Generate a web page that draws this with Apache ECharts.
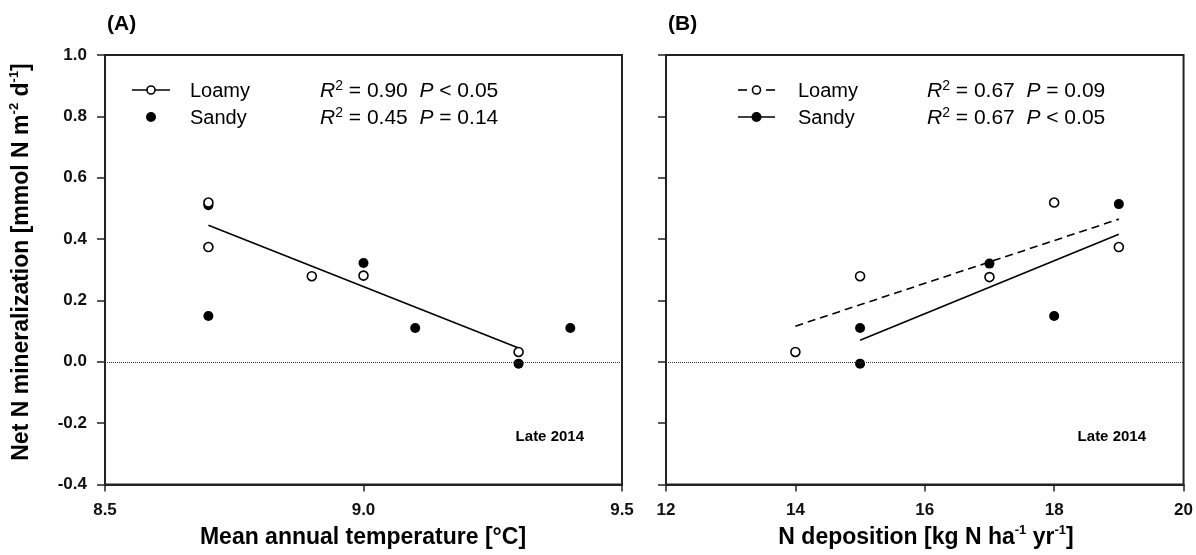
<!DOCTYPE html>
<html>
<head>
<meta charset="utf-8">
<script src="https://cdn.jsdelivr.net/npm/echarts@6/dist/echarts.min.js"></script>
<style>
html,body{margin:0;padding:0;background:#fff;}
#chart{width:1196px;height:555px;}
</style>
</head>
<body>
<div id="chart"></div>
<script>
// ---- Data ----
// Panel A: mean annual temperature [°C] vs net N mineralization
const tempLoamy = [8.7, 8.7, 8.9, 9.0, 9.3];
const nminLoamyA = [0.519, 0.374, 0.279, 0.281, 0.032];
const tempSandy = [8.7, 8.7, 9.0, 9.1, 9.3, 9.4];
const nminSandyA = [0.510, 0.149, 0.322, 0.110, -0.006, 0.110];
// Panel A regression (Loamy)
const fitLoamyAx = [8.7, 9.3];
const fitLoamyAy = [0.445, 0.045];

// Panel B: N deposition [kg N ha-1 yr-1] vs net N mineralization
const ndepLoamy = [14, 15, 17, 18, 19];
const nminLoamyB = [0.032, 0.279, 0.276, 0.519, 0.374];
const ndepSandy = [15, 15, 17, 18, 19];
const nminSandyB = [0.110, -0.006, 0.320, 0.149, 0.514];
// Panel B regressions
const fitLoamyBx = [14, 19];
const fitLoamyBy = [0.116, 0.465];
const fitSandyBx = [15, 19];
const fitSandyBy = [0.070, 0.416];

// Axis settings
const xTicksA = {min: 8.5, max: 9.5, interval: 0.5};
const xTicksB = {min: 12, max: 20, interval: 2};
const yTicks = {min: -0.4, max: 1.0, interval: 0.2};

// Legend / annotation texts
const legendA = [
  {name: 'Loamy', stat: '{i|R}{s|2}{n| = 0.90  }{i|P}{n| < 0.05}'},
  {name: 'Sandy', stat: '{i|R}{s|2}{n| = 0.45  }{i|P}{n| = 0.14}'}
];
const legendB = [
  {name: 'Loamy', stat: '{i|R}{s|2}{n| = 0.67  }{i|P}{n| = 0.09}'},
  {name: 'Sandy', stat: '{i|R}{s|2}{n| = 0.67  }{i|P}{n| < 0.05}'}
];

const zip = (xs, ys) => xs.map((x, i) => [x, ys[i]]);
const FONT = "'Liberation Sans', Arial, sans-serif";
const INK = '#000';

const chart = echarts.init(document.getElementById('chart'), null, {renderer: 'canvas'});

const gridTop = 55, gridH = 429.5;
function xAxis(gi, t) {
  return {
    type: 'value', gridIndex: gi, min: t.min, max: t.max, interval: t.interval,
    axisLine: {show: true, onZero: false, lineStyle: {color: '#222', width: 2}},
    axisTick: {show: true, inside: false, length: 7, lineStyle: {color: '#222', width: 1.5}},
    splitLine: {show: false},
    axisLabel: {
      show: true, margin: 17, color: '#111', fontFamily: FONT, fontWeight: 'bold', fontSize: 17,
      formatter: v => (t.interval < 1 ? v.toFixed(1) : String(Math.round(v)))
    }
  };
}
function yAxis(gi, showLabels) {
  return {
    type: 'value', gridIndex: gi, min: yTicks.min, max: yTicks.max, interval: yTicks.interval,
    axisLine: {show: true, onZero: false, lineStyle: {color: '#222', width: 2}},
    axisTick: {show: true, inside: false, length: 8, lineStyle: {color: '#222', width: 1.5}},
    splitLine: {show: false},
    axisLabel: {
      show: showLabels, margin: 18, color: '#111', fontFamily: FONT, fontWeight: 'bold', fontSize: 17,
      formatter: v => v.toFixed(1)
    }
  };
}
const zeroLine = {
  silent: true, symbol: 'none', label: {show: false},
  lineStyle: {type: 'dotted', color: '#333', width: 1},
  data: [{yAxis: 0}]
};
function fit(xi, xs, ys, dashed) {
  return {
    type: 'line', xAxisIndex: xi, yAxisIndex: xi, data: zip(xs, ys),
    showSymbol: false, symbol: 'none', silent: true, z: 2,
    lineStyle: {color: INK, width: 1.6, opacity: 1, type: dashed ? [8, 5] : 'solid'}
  };
}
function pts(xi, xs, ys, open, withZero) {
  const s = {
    type: 'scatter', xAxisIndex: xi, yAxisIndex: xi, data: zip(xs, ys),
    symbol: 'circle', symbolSize: open ? 9 : 10, z: open ? 4 : 3,
    itemStyle: open ? {color: '#fff', borderColor: INK, borderWidth: 1.6, opacity: 1} : {color: INK, opacity: 1}
  };
  if (withZero) s.markLine = zeroLine;
  return s;
}

const rich = {
  i: {fontFamily: FONT, fontStyle: 'italic', fontSize: 21, lineHeight: 24},
  s: {fontFamily: FONT, fontSize: 14, verticalAlign: 'top', lineHeight: 24},
  n: {fontFamily: FONT, fontSize: 21, lineHeight: 24}
};
function txt(x, y, text, opts) {
  return {type: 'text', x: x, y: y, silent: true, z: 100,
    style: Object.assign({text: text, fill: INK, font: '20px ' + FONT, align: 'left', verticalAlign: 'middle'}, opts || {})};
}
function legendGraphics(symX1, symX2, textX, statX, rows, dashedFirst) {
  const g = [];
  const cx = (symX1 + symX2) / 2;
  const ys = [90, 117];
  if (dashedFirst) {
    g.push({type: 'line', silent: true, z: 100, shape: {x1: symX1, y1: ys[0], x2: symX1 + 9, y2: ys[0]}, style: {stroke: INK, lineWidth: 1.6}});
    g.push({type: 'line', silent: true, z: 100, shape: {x1: symX2 - 9, y1: ys[0], x2: symX2, y2: ys[0]}, style: {stroke: INK, lineWidth: 1.6}});
  } else {
    g.push({type: 'line', silent: true, z: 100, shape: {x1: symX1, y1: ys[0], x2: symX2, y2: ys[0]}, style: {stroke: INK, lineWidth: 1.6}});
  }
  g.push({type: 'circle', silent: true, z: 101, shape: {cx: cx, cy: ys[0], r: 4}, style: {fill: '#fff', stroke: INK, lineWidth: 1.6}});
  if (dashedFirst) {
    g.push({type: 'line', silent: true, z: 100, shape: {x1: symX1, y1: ys[1], x2: symX2, y2: ys[1]}, style: {stroke: INK, lineWidth: 1.6}});
  }
  g.push({type: 'circle', silent: true, z: 101, shape: {cx: cx, cy: ys[1], r: 5}, style: {fill: INK}});
  rows.forEach((r, k) => {
    g.push(txt(textX, ys[k] + 1.5, r.name));
    g.push(txt(statX, ys[k] + 1.5, r.stat, {rich: rich}));
  });
  return g;
}

const titleRich = {
  b: {fontFamily: FONT, fontWeight: 'bold', fontSize: 23, lineHeight: 28},
  sup: {fontFamily: FONT, fontWeight: 'bold', fontSize: 13, verticalAlign: 'top', lineHeight: 28}
};

const option = {
  animation: false,
  backgroundColor: '#fff',
  grid: [
    {left: 105, top: gridTop, width: 517, height: gridH, show: true, borderColor: '#222', borderWidth: 2, backgroundColor: 'transparent'},
    {left: 666, top: gridTop, width: 519, height: gridH, show: true, borderColor: '#222', borderWidth: 2, backgroundColor: 'transparent'}
  ],
  xAxis: [xAxis(0, xTicksA), xAxis(1, xTicksB)],
  yAxis: [yAxis(0, true), yAxis(1, false)],
  series: [
    fit(0, fitLoamyAx, fitLoamyAy, false),
    pts(0, tempSandy, nminSandyA, false, true),
    pts(0, tempLoamy, nminLoamyA, true, false),
    fit(1, fitLoamyBx, fitLoamyBy, true),
    fit(1, fitSandyBx, fitSandyBy, false),
    pts(1, ndepSandy, nminSandyB, false, true),
    pts(1, ndepLoamy, nminLoamyB, true, false)
  ],
  graphic: [].concat(
    legendGraphics(132, 170, 190, 320, legendA, false),
    legendGraphics(738, 775, 798, 927, legendB, true),
    [
      txt(107, 24, '(A)', {font: 'bold 21px ' + FONT}),
      txt(668, 24, '(B)', {font: 'bold 21px ' + FONT}),
      txt(584, 437, 'Late 2014', {font: 'bold 15px ' + FONT, align: 'right'}),
      txt(1146, 437, 'Late 2014', {font: 'bold 15px ' + FONT, align: 'right'}),
      txt(363, 538, '{b|Mean annual temperature [°C]}', {rich: titleRich, align: 'center'}),
      txt(926, 538, '{b|N deposition [kg N ha}{sup|-1}{b| yr}{sup|-1}{b|]}', {rich: titleRich, align: 'center'}),
      {type: 'text', x: 22, y: 262, rotation: Math.PI / 2, silent: true, z: 100,
        style: {text: '{b|Net N mineralization [mmol N m}{sup|-2}{b| d}{sup|-1}{b|]}', rich: titleRich,
          fill: INK, align: 'center', verticalAlign: 'middle'}}
    ]
  )
};
chart.setOption(option);
</script>
</body>
</html>
